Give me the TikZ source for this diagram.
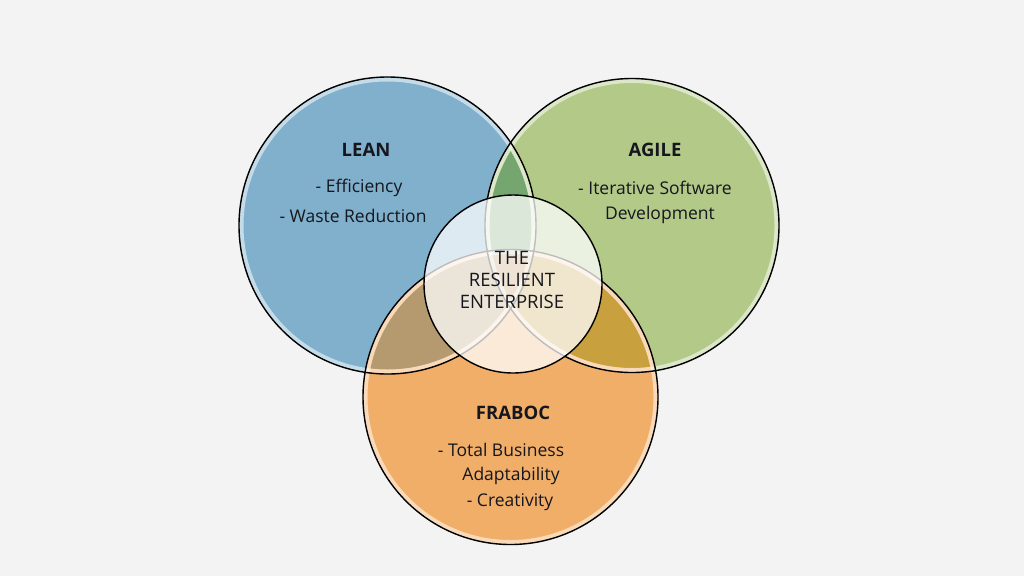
\documentclass[tikz,border=0pt]{standalone}
\usepackage{fontspec}
\setmainfont{Open Sans}
\definecolor{bgc}{RGB}{243,243,243}
\definecolor{leanc}{RGB}{128,176,204}
\definecolor{agilec}{RGB}{178,201,136}
\definecolor{frabocc}{RGB}{240,174,104}
\definecolor{lac}{RGB}{118,166,112}
\definecolor{lfc}{RGB}{180,154,110}
\definecolor{afc}{RGB}{200,160,62}
\definecolor{lafc}{RGB}{196,150,96}
\definecolor{txtc}{RGB}{22,22,30}
\tikzset{
  outline/.style={draw=black, line width=1.4pt},
  rim/.style={draw=white, draw opacity=0.55, line width=4pt},
  title/.style={font=\fontsize{18.5}{20}\selectfont\bfseries, text=txtc, inner sep=0pt},
  item/.style={font=\fontsize{17.5}{20}\selectfont, text=txtc, inner sep=0pt},
  core/.style={font=\fontsize{18.5}{20}\selectfont, text=txtc, inner sep=0pt},
}
\begin{document}
\begin{tikzpicture}[x=1pt,y=-1pt]
\fill[bgc] (0,0) rectangle (1024,576);
\useasboundingbox (0,0) rectangle (1024,576);
\coordinate (cl) at (387.5,225.5);
\coordinate (ca) at (632,225.5);
\coordinate (cf) at (510.5,397);
\coordinate (cc) at (513,284);
% base fills
\fill[leanc] (cl) circle (148.5);
\fill[agilec] (ca) circle (147);
\fill[frabocc] (cf) circle (147.5);
% pairwise overlaps
\begin{scope}
  \clip (cl) circle (144);
  \fill[lac] (ca) circle (142.5);
\end{scope}
\begin{scope}
  \clip (cl) circle (144);
  \fill[lfc] (cf) circle (143);
\end{scope}
\begin{scope}
  \clip (ca) circle (142.5);
  \fill[afc] (cf) circle (143);
\end{scope}
\begin{scope}
  \clip (cl) circle (144);
  \clip (ca) circle (142.5);
  \fill[lafc] (cf) circle (143);
\end{scope}
% rims
\draw[rim] (cl) circle (146);
\draw[rim] (ca) circle (144.5);
\draw[rim] (cf) circle (145);
% outlines
\draw[outline] (cl) circle (148.5);
\draw[outline] (ca) circle (147);
\draw[outline] (cf) circle (147.5);
% core
\fill[white, fill opacity=0.74] (cc) circle (89);
\draw[outline] (cc) circle (89);
% texts
\node[title] (tl) at (366,150) {LEAN};
\node[item] (l1) at (359,188) {- Efficiency};
\node[item] (l2) at (353,216) {- Waste Reduction};
\node[title] (ta) at (655,150) {AGILE};
\node[item] (a1) at (655,188) {- Iterative Software};
\node[item] (a2) at (660,215) {Development};
\node[title] (tf) at (513,413) {FRABOC};
\node[item] (f1) at (501,450) {- Total Business};
\node[item] (f2) at (511,476) {Adaptability};
\node[item] (f3) at (510,502) {- Creativity};
\node[core] (c1) at (512,258) {THE};
\node[core] (c2) at (512,280) {RESILIENT};
\node[core] (c3) at (512,302) {ENTERPRISE};
\end{tikzpicture}
\end{document}
